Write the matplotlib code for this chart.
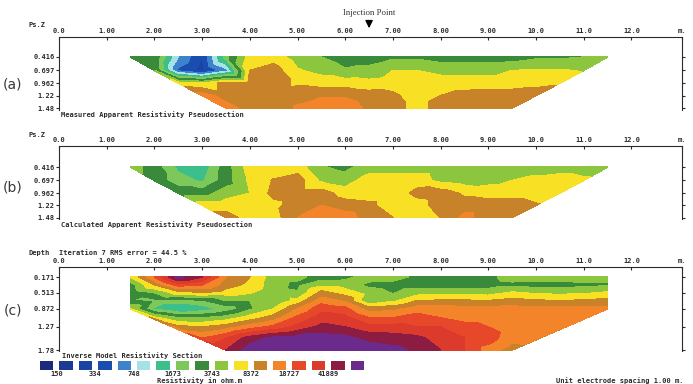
import numpy as np
import matplotlib
matplotlib.use('Agg')
import matplotlib.pyplot as plt
import matplotlib.tri as mtri
from matplotlib.colors import ListedColormap, BoundaryNorm

# colour classes of the legend, low -> high resistivity
band_colors = ['#1a2a7c', '#1c3a94', '#1a44a4', '#1b4cb0', '#3c82cc', '#a4e2e6',
               '#3cbf8a', '#7cc85a', '#3a8a3c', '#8cc63e', '#f8e024', '#c8822a',
               '#f4842a', '#e8482a', '#dc3a2c', '#8c1c42', '#6c2a8c']
band_labels = ['150', '334', '748', '1673', '3743', '8372', '18727', '41889']

x_ticks = [0, 1, 2, 3, 4, 5, 6, 7, 8, 9, 10, 11, 12, 13.06]
x_labels = ['0.0', '1.00', '2.00', '3.00', '4.00', '5.00', '6.00', '7.00', '8.00',
            '9.00', '10.0', '11.0', '12.0', 'm.']

# pseudosection levels (a), (b)
ps_depth = [0.416, 0.697, 0.962, 1.22, 1.48]
ps_labels = ['0.416', '0.697', '0.962', '1.22', '1.48']
ps_start = [1.5, 2.0, 2.5, 3.0, 3.5]

# values are the legend class (0 = lowest) read at every 0.5 m along each level
meas_rows = [
    [8.2, 8.2, 4.5, 2.5, 7.0, 10, 10, 9.0, 8.5, 8, 8, 8.3, 8.3, 8, 8, 8, 8, 8.3, 8.3, 8.5, 8.5],
    [8.5, 3.2, 2.0, 4.0, 10.5, 11, 9.6, 9.2, 8.6, 8.8, 9.5, 9.5, 9.2, 9.2, 9.2, 9.5, 9.6, 9.6, 9.4],
    [10, 9.5, 11, 11, 11, 10.3, 10, 10, 9.8, 10, 10, 10, 10, 10, 10, 10.2, 10.4],
    [12, 11, 11, 11, 11.2, 11.4, 11.4, 11, 10.7, 10, 10.5, 10.8, 11, 11, 11],
    [12, 11, 11, 11.6, 12, 12, 11.3, 11, 10, 11, 11, 11, 11],
]
calc_rows = [
    [9, 8, 6.2, 5.8, 8, 10, 10, 10, 8.6, 8.2, 9, 9, 9, 9, 8.5, 8.5, 8.8, 9, 9, 9, 9],
    [8, 7, 6.3, 8, 9.7, 10.6, 11, 9.3, 9, 10, 10, 10, 9.2, 9, 9.2, 9.5, 9.8, 10, 9.7],
    [8, 8, 9, 9.5, 10.8, 11, 11, 10, 9.8, 9.8, 10.8, 11, 10.3, 10, 10, 10, 10],
    [10, 10, 10, 10.2, 11, 11.5, 11, 10.8, 9.8, 10, 11, 11, 11, 11, 10.6],
    [11, 10, 10, 11.5, 12, 12, 11, 10.5, 9.6, 10.5, 11.8, 11, 11],
]

# inverse model section (c)
mod_depth = [0.171, 0.342, 0.513, 0.69, 0.872, 1.07, 1.27, 1.52, 1.78]
mod_ticks = [0.171, 0.513, 0.872, 1.27, 1.78]
mod_labels = ['0.171', '0.513', '0.872', '1.27', '1.78']
mod_start = [1.5, 1.5, 1.5, 1.5, 1.5, 2.0, 2.5, 3.0, 3.5]
model_rows = [
    [9.5, 12.5, 15.8, 14.5, 11.5, 10.5, 9, 8.8, 8, 8.2, 9, 9, 8.2, 8, 8, 8.2, 9, 9, 9, 9, 9],
    [8, 10.5, 13, 12.5, 11, 10.2, 9, 8.2, 9.2, 9, 8.2, 8, 8, 8, 8, 8, 8.2, 8, 8, 8.2, 8.3],
    [7.8, 8.5, 10, 10.5, 10, 9.6, 8.8, 8.6, 10.8, 10, 9, 8.4, 9, 9, 9, 9, 9.6, 9.3, 9.2, 9.3, 9.6],
    [7.5, 7.2, 7.0, 7.3, 8.5, 8.5, 8.5, 9.8, 12, 11.3, 8.4, 9.2, 10.5, 10.6, 10.6, 10.5, 10.8, 10.6, 10.5, 10.6, 10.8],
    [9.5, 6.3, 5.3, 5.9, 6.8, 8.3, 9.5, 11.5, 13.2, 12.8, 11, 11.2, 12, 12, 11.8, 11.8, 11.9, 11.9, 11.8, 11.8, 11.8],
    [9.8, 8.5, 8.5, 9, 10, 11, 12.8, 14, 13.8, 12.5, 12.5, 13, 12.5, 12, 12, 12, 12, 12, 12],
    [10.8, 10.5, 11, 12, 12.8, 13.8, 14.8, 14.5, 13.8, 13.8, 13.5, 13.5, 13, 12.5, 12, 12, 12],
    [12.5, 13.5, 15, 15.8, 16, 16, 15.8, 15.2, 15, 14.8, 14, 13.5, 13, 11.8, 12],
    [14.5, 16, 16, 16, 16, 16, 16, 15.8, 15.3, 14.5, 13.5, 12, 11],
]

plt.rcParams['font.family'] = ['DejaVu Sans Mono']
plt.rcParams['font.weight'] = 'bold'
plt.rcParams['font.size'] = 5
ink = '#2a2a2a'

W, H = 693, 384
fig = plt.figure(figsize=(W / 100, H / 100), dpi=100)

def rect(left, top, right, bottom):
    return [left / W, 1 - bottom / H, (right - left) / W, (bottom - top) / H]

def fxy(px, py):
    return px / W, 1 - py / H

cmap = ListedColormap(band_colors)
levels = np.arange(-0.5, 17, 1.0)
norm = BoundaryNorm(levels, cmap.N)


def section(ax, depths, starts, rows):
    xs, ys, zs = [], [], []
    for d, x0, vals in zip(depths, starts, rows):
        for k, v in enumerate(vals):
            xs.append(x0 + 0.5 * k)
            ys.append(d)
            zs.append(v)
    tri = mtri.Triangulation(xs, ys)
    cs = ax.tricontourf(tri, zs, levels=levels, cmap=cmap, norm=norm)
    cs.set_edgecolor('face')
    cs.set_linewidth(0.3)


def frame(ax, ylim, yt, ytl):
    ax.set_xlim(0, 13.06)
    ax.set_ylim(*ylim)
    ax.spines['bottom'].set_visible(False)
    for s in ['top', 'left', 'right']:
        ax.spines[s].set_color(ink)
        ax.spines[s].set_linewidth(0.8)
    ax.xaxis.tick_top()
    ax.set_xticks(x_ticks)
    ax.set_xticklabels(x_labels)
    ax.tick_params(axis='x', top=True, bottom=False, direction='in', length=2,
                   pad=2.2, labelsize=5, colors=ink)
    ax.set_yticks(yt)
    ax.set_yticklabels(ytl)
    ax.tick_params(axis='y', left=True, right=True, direction='out', length=2,
                   pad=1, labelsize=5, colors=ink)


ax_a = fig.add_axes(rect(59, 37, 682, 110))
section(ax_a, ps_depth, ps_start, meas_rows)
frame(ax_a, (1.52, 0.0), ps_depth, ps_labels)

ax_b = fig.add_axes(rect(59, 146, 682, 219))
section(ax_b, ps_depth, ps_start, calc_rows)
frame(ax_b, (1.51, -0.03), ps_depth, ps_labels)

ax_c = fig.add_axes(rect(59, 267, 682, 351))
section(ax_c, mod_depth, mod_start, model_rows)
frame(ax_c, (1.80, -0.05), mod_ticks, mod_labels)

# injection point marker above panel (a)
trans = ax_a.get_xaxis_transform()
ax_a.annotate('Injection Point', xy=(6.5, 1.12), xytext=(6.5, 1.33),
              xycoords=trans, textcoords=trans, ha='center', va='center',
              family=['Liberation Serif', 'DejaVu Serif'], fontweight='normal',
              fontsize=6.3, color='#333333', annotation_clip=False,
              arrowprops=dict(arrowstyle='-|>', color='black', lw=1.0,
                              mutation_scale=11, shrinkA=1, shrinkB=0))

# texts
fig.text(*fxy(28, 25), 'Ps.Z', ha='left', va='center', color=ink)
fig.text(*fxy(28, 135), 'Ps.Z', ha='left', va='center', color=ink)
fig.text(*fxy(28, 253), 'Depth', ha='left', va='center', color=ink)
fig.text(*fxy(59, 253), 'Iteration 7 RMS error = 44.5 %', ha='left', va='center', color=ink)
fig.text(*fxy(61, 115), 'Measured Apparent Resistivity Pseudosection', ha='left', va='center', color=ink)
fig.text(*fxy(61, 225), 'Calculated Apparent Resistivity Pseudosection', ha='left', va='center', color=ink)
fig.text(*fxy(62, 356), 'Inverse Model Resistivity Section', ha='left', va='center', color=ink)
fig.text(*fxy(200, 381), 'Resistivity in ohm.m', ha='center', va='center', color=ink)
fig.text(*fxy(683, 381), 'Unit electrode spacing 1.00 m.', ha='right', va='center', color=ink)

for lab, py in [('(a)', 85), ('(b)', 187), ('(c)', 311)]:
    fig.text(*fxy(13, py), lab, ha='center', va='center', fontsize=10,
             family=['Liberation Sans Narrow', 'DejaVu Sans'], fontweight='normal',
             color='#3a3a3a')

# colour legend
ax_l = fig.add_axes(rect(37, 361, 367, 370))
ax_l.bar(np.arange(len(band_colors)), np.ones(len(band_colors)), width=0.69,
         color=band_colors, align='center')
ax_l.set_xlim(-0.5, len(band_colors) - 0.5)
ax_l.set_ylim(0, 1)
ax_l.axis('off')
for k, lab in enumerate(band_labels):
    ax_l.text(2 * k + 0.5, -0.5, lab, ha='center', va='center', color=ink)

fig.savefig('out.png', dpi=100)
